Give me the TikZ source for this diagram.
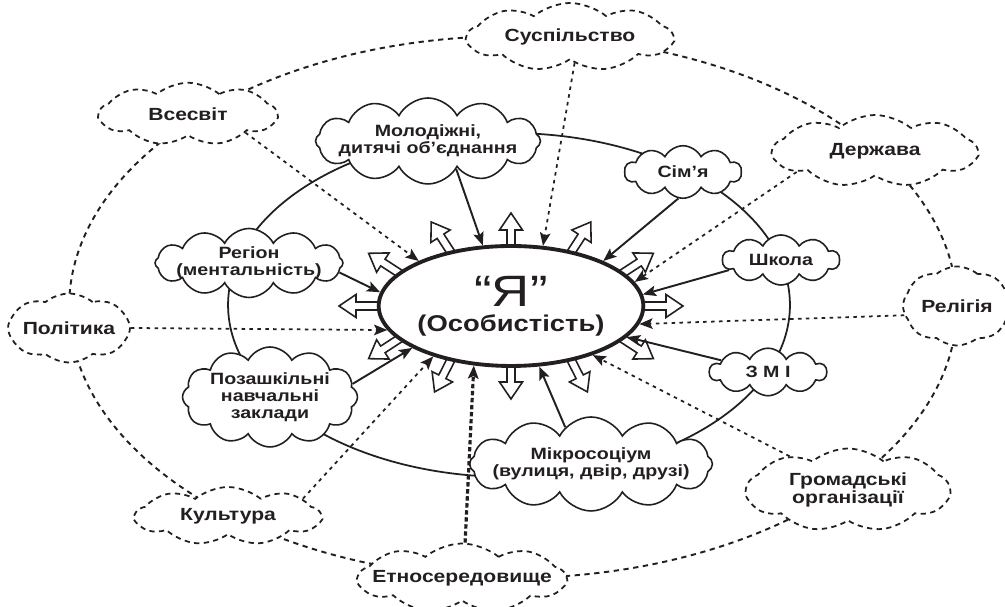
\documentclass[tikz,border=0pt]{standalone}
\usepackage{fontspec}
\setmainfont[FakeStretch=1.2]{Liberation Sans}
\usepackage{tikz}
\usetikzlibrary{calc,arrows.meta,shapes.geometric,shapes.symbols}
\definecolor{ink}{RGB}{35,31,32}

\begin{document}
\begin{tikzpicture}[
	x=0.02cm, y=0.02cm,
	color=ink,
	>={Stealth[length=7.5pt,width=6pt,inset=1.5pt]},
	txt/.style={font=\bfseries\fontsize{9.3}{9.8}\selectfont, align=center, inner sep=0pt},
	big/.style={font=\bfseries\fontsize{10}{10.5}\selectfont, align=center, inner sep=0pt},
	inner/.style={cloud, cloud puffs=12, cloud puff arc=125, draw, fill=white, line width=0.9pt, inner sep=0pt},
	outer/.style={cloud, cloud puffs=9, cloud puff arc=80, draw, fill=white, line width=1pt, dash pattern=on 3pt off 2.5pt, inner sep=0pt},
	infl/.style={->, line width=1.1pt},
	outfl/.style={->, line width=1pt, dash pattern=on 2pt off 2.5pt},
	ring/.style={line width=1.1pt, dash pattern=on 3pt off 2.6pt},
	hollow/.style={draw, fill=white, line width=0.9pt}
  ]

  \useasboundingbox (0,0) rectangle (1005,607);

  % rings
  \draw[ring] (513,300) ellipse [x radius=8.88cm, y radius=5.42cm];
  \draw[line width=1pt] (509,302) ellipse [x radius=5.62cm, y radius=3.44cm];

  % hollow arrows round the centre
  \coordinate (c) at (511,301);
  \foreach \t/\d/\l in {0/0/45, 31/33/40, 62/57/37, 90/90/33, 118/123/37, 149/147/40,
                        180/180/45, 211/213/40, 242/243/37, 270/270/33, 298/297/37, 329/327/40}
    \draw[hollow, shift={($(c)+(\t:2.54cm and 1.2cm)$)}, rotate=\d]
      (-12,-4) -- (\l-17,-4) -- (\l-17,-11.5) -- (\l,0) -- (\l-17,11.5) -- (\l-17,4) -- (-12,4);

  \node[ellipse, draw, fill=white, line width=2.2pt, minimum width=5.08cm, minimum height=2.4cm,
        inner sep=0pt, align=center, font=\bfseries\fontsize{13}{14}\selectfont] (ya) at (c)
        {{\mdseries\fontsize{25}{14}\selectfont “Я”}\\(Особистість)};

  % inner clouds
  \node[inner, minimum width=4.5cm, minimum height=1.72cm] (mol) at (428,466) {};
  \node[inner, cloud puffs=10, minimum width=2.34cm, minimum height=1.05cm] (sim) at (683,435) {};
  \node[inner, cloud puffs=10, minimum width=2.34cm, minimum height=1.0cm] (sch) at (781,347) {};
  \node[inner, cloud puffs=10, minimum width=2.34cm, minimum height=0.95cm] (zmi) at (768,235) {};
  \node[inner, minimum width=4.86cm, minimum height=1.88cm] (mik) at (591,143) {};
  \node[inner, minimum width=3.5cm, minimum height=2.0cm] (poz) at (270,210) {};
  \node[inner, minimum width=3.76cm, minimum height=1.38cm] (reg) at (249,344) {};

  \node[txt] (mol-t) at (mol) {Молодіжні,\\дитячі об’єднання};
  \node[txt] (sim-t) at (sim) {Сім’я};
  \node[txt] (sch-t) at (sch) {Школа};
  \node[txt] (zmi-t) at (zmi) {З М І};
  \node[txt] (mik-t) at (mik) {Мікросоціум\\(вулиця, двір, друзі)};
  \node[txt] (poz-t) at (poz) {Позашкільні\\навчальні\\заклади};
  \node[txt] (reg-t) at (reg) {Регіон\\(ментальність)};

  % outer clouds
  \node[outer, minimum width=4.1cm, minimum height=1.36cm] (sus) at (570,570) {};
  \node[outer, minimum width=4.08cm, minimum height=1.44cm] (der) at (875,456) {};
  \node[outer, cloud puffs=8, minimum width=2.16cm, minimum height=1.58cm] (rel) at (957,301) {};
  \node[outer, minimum width=4.06cm, minimum height=1.66cm] (grom) at (848,117) {};
  \node[outer, minimum width=4.14cm, minimum height=1.38cm] (etn) at (462,29) {};
  \node[outer, minimum width=3.7cm, minimum height=1.16cm] (kul) at (228,91) {};
  \node[outer, cloud puffs=8, minimum width=2.44cm, minimum height=1.38cm] (pol) at (69,279) {};
  \node[outer, minimum width=3.54cm, minimum height=1.25cm] (vse) at (188,493) {};

  \node[big] (sus-t) at (sus) {Суспільство};
  \node[big] (der-t) at (der) {Держава};
  \node[big] (rel-t) at (rel) {Релігія};
  \node[big] (grom-t) at (grom) {Громадські\\організації};
  \node[big] (etn-t) at (etn) {Етносередовище};
  \node[big] (kul-t) at (kul) {Культура};
  \node[big] (pol-t) at (pol) {Політика};
  \node[big] (vse-t) at (vse) {Всесвіт};

  % influences
  \path (mol.-45)  edge[infl] (ya.115)
        (sim.-100) edge[infl] (ya.26)
        (sch.191)  edge[infl] (ya.5)
        (zmi.166)  edge[infl] (ya.-15)
        (mik.125)  edge[infl] (ya.-65)
        (poz.9)    edge[infl] (ya.203)
        (reg.-6)   edge[infl] (ya.174);

  \path (sus.-80)  edge[outfl] (ya.62)
        (der.195)  edge[outfl] (ya.11)
        (rel.190)  edge[outfl] (ya.-8)
        (grom.150) edge[outfl] (ya.-31)
        (etn.85)   edge[outfl, line width=1.8pt, dash pattern=on 2.5pt off 1.5pt] (ya.238)
        (kul.13)   edge[outfl] (ya.213)
        (pol.east) edge[outfl] (ya.191)
        (vse.-18)  edge[outfl] (ya.154);

\end{tikzpicture}
\end{document}
